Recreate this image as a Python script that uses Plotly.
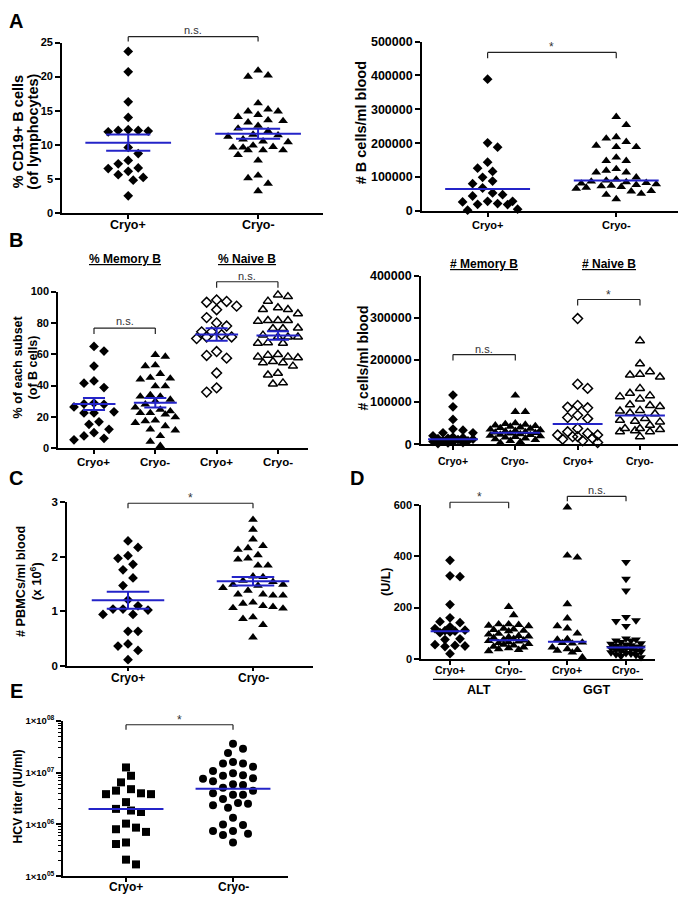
import numpy as np
import plotly.graph_objects as go

# page is 686x905; the html body adds an 8px margin, so the figure itself is 8px smaller
PAGE_W, PAGE_H = 686, 905
OFF = 8
W, H = PAGE_W - OFF, PAGE_H - OFF
FONT = "Liberation Sans"
BLUE = "#2424c8"

# ---------------- data ----------------
cats2 = ["Cryo+", "Cryo-"]
cats4 = ["Cryo+", "Cryo-", "Cryo+", "Cryo-"]

# A left: % CD19+ B cells
a_pct_pos = [23.7, 20.7, 16.3, 14.0, 12.2, 12.1, 11.9, 12.0, 12.1, 9.6, 8.7, 7.7, 7.2, 6.5, 6.6, 6.1, 5.6, 5.2, 4.8, 2.5]
a_pct_neg = [20.9, 20.2, 20.0, 16.1, 15.2, 14.9, 14.9, 14.4, 14.1, 13.5, 13.3, 13.6, 12.8, 12.4, 12.0, 11.5, 11.4,
             11.2, 10.8, 10.4, 10.5, 9.9, 9.6, 9.6, 9.7, 9.2, 9.2, 9.2, 8.5, 7.7, 5.5, 5.1, 4.3, 3.2]
a_pct_mean = [10.3, 11.6]
a_pct_sem = [1.2, 0.73]

# A right: # B cells/ml blood
a_cnt_pos = [389000, 201000, 188000, 144000, 126000, 116700, 99000, 88000, 80400, 67600, 53000, 48000, 44000,
             28400, 28400, 26500, 21600, 19600, 18600, 4900, 2000]
a_cnt_neg = [278000, 254000, 218000, 214000, 204000, 193000, 189000, 189000, 158000, 148000, 148000, 124000,
             119000, 114000, 114000, 99000, 93000, 90000, 87000, 85000, 83000, 81000, 79000, 77000, 75000, 73000,
             71000, 69000, 66000, 59000, 58000, 51000, 48000, 35000]
a_cnt_median = [65000, 90000]

# B left: % of each subset
b_mem_pos = [65.0, 62.0, 52.4, 42.9, 41.5, 38.7, 28.8, 28.2, 28.0, 26.3, 23.2, 22.5, 22.5, 16.8, 15.2, 12.0, 9.9, 7.8, 6.3, 5.3]
b_mem_neg = [59.6, 58.5, 53.0, 52.4, 47.5, 45.0, 44.5, 44.0, 39.6, 39.6, 34.0, 33.0, 33.0, 31.0, 30.0, 28.0, 26.0,
             24.6, 23.6, 22.5, 22.5, 21.5, 19.8, 17.7, 17.3, 16.2, 14.1, 12.0, 11.4, 7.8, 4.2, 1.5]
b_nai_pos = [94.7, 93.7, 93.2, 90.7, 88.4, 83.4, 80.0, 78.0, 74.3, 74.3, 72.5, 71.0, 71.0, 70.0, 61.7, 59.2, 57.5, 48.0, 38.5, 35.8]
b_nai_neg = [97.9, 96.8, 93.9, 89.7, 88.6, 88.6, 85.9, 81.5, 81.5, 81.5, 81.0, 76.8, 76.4, 76.4, 72.2, 71.0, 71.0,
             71.0, 67.4, 67.0, 67.0, 59.8, 59.4, 58.3, 58.3, 57.7, 55.4, 54.5, 54.5, 52.4, 47.8, 46.7, 41.7, 41.0]
b_pct_mean = [28.2, 29.0, 72.6, 72.0]
b_pct_sem = [3.8, 3.1, 4.0, 2.7]

# B right: # cells/ml blood
bc_mem_pos = [116700, 88900, 58700, 36000, 33300, 27000, 27000, 20000, 17000, 15500, 14000, 13000, 12000, 11000,
              9000, 8000, 6500, 5000, 4000, 3000, 1500]
bc_mem_neg = [116000, 77000, 77000, 50000, 48000, 46500, 45000, 43500, 42000, 40000, 38500, 37000, 35000, 33500,
              32000, 30500, 29000, 28000, 27000, 25500, 24000, 23000, 22000, 20500, 19000, 17500, 16000, 14000,
              12000, 10000, 8000, 5500, 3000]
bc_nai_pos = [298600, 142700, 132600, 92000, 88100, 86500, 68600, 63200, 60800, 37400, 29600, 25700, 21800, 21800,
              17900, 17900, 14000, 11700, 8000, 3900]
bc_nai_neg = [245600, 191000, 172300, 166000, 164500, 159800, 132600, 120900, 115400, 113000, 107600, 93600, 92000,
              89700, 80300, 78800, 74000, 72500, 60800, 56900, 54600, 53000, 45200, 37400, 37400, 35100, 32000,
              29600, 29600, 17900]
bc_median = [12000, 27000, 48000, 68000]

# C: # PBMCs/ml blood (x 10^6)
c_pos = [2.29, 2.17, 2.02, 1.97, 1.86, 1.76, 1.61, 1.47, 1.21, 1.10, 1.04, 1.04, 1.02, 0.94, 0.94, 0.63, 0.63,
         0.40, 0.36, 0.28, 0.11]
c_neg = [2.68, 2.50, 2.32, 2.20, 2.16, 2.13, 2.03, 1.97, 1.95, 1.84, 1.84, 1.64, 1.63, 1.56, 1.54, 1.49, 1.49,
         1.47, 1.43, 1.38, 1.31, 1.31, 1.29, 1.29, 1.16, 1.14, 1.10, 1.08, 1.06, 1.05, 0.89, 0.86, 0.75, 0.52]
c_mean = [1.20, 1.55]
c_sem = [0.155, 0.08]

# D: ALT / GGT (U/L)
d_alt_pos = [385, 324, 321, 212, 160, 145, 141, 125, 118, 112, 110, 108, 105, 102, 78, 75, 55, 52, 50, 48, 20]
d_alt_neg = [203, 171, 135, 135, 133, 130, 128, 118, 115, 113, 110, 108, 98, 95, 90, 88, 85, 82, 78, 75, 72, 70,
             68, 65, 62, 58, 55, 52, 48, 45, 42, 38, 35, 30]
d_ggt_pos = [592, 404, 396, 214, 158, 128, 119, 99, 77, 75, 64, 62, 60, 45, 38, 35, 32, 25, 6]
d_ggt_neg = [378, 312, 266, 163, 150, 147, 128, 79, 75, 71, 71, 65, 60, 58, 55, 52, 50, 48, 45, 44, 42, 40, 38,
             35, 32, 30, 28, 25, 22, 20, 17, 14, 10, 6]
d_median = [108, 72, 67, 44]
d_groups = ["ALT", "GGT"]

# E: HCV titer (IU/ml)
e_pos = [1.26e7, 8.7e6, 6.5e6, 4.8e6, 4.5e6, 4.0e6, 3.85e6, 3.85e6, 2.7e6, 2.0e6, 1.86e6, 1.74e6, 1.04e6,
         8.7e5, 8.1e5, 7.2e5, 4.5e5, 4.2e5, 2.1e5, 1.7e5]
e_neg = [3.6e7, 2.9e7, 2.4e7, 1.6e7, 1.5e7, 1.5e7, 1.3e7, 1.08e7, 9.7e6, 8.9e6, 8.7e6, 7.8e6, 7.6e6, 6.8e6,
         6.0e6, 5.75e6, 5.1e6, 4.5e6, 4.0e6, 3.75e6, 3.75e6, 3.1e6, 2.6e6, 2.5e6, 2.35e6, 2.1e6, 1.35e6, 1.0e6,
         9.8e5, 7.5e5, 7.5e5, 6.6e5, 6.3e5, 4.5e5]
e_median = [2.0e6, 4.9e6]
e_ticks = [1e5, 1e6, 1e7, 1e8]
e_ticktext = ["1×10<sup>05</sup>", "1×10<sup>06</sup>", "1×10<sup>07</sup>", "1×10<sup>08</sup>"]

# ---------------- geometry (page pixels) ----------------
geo = {
    "A1": dict(i=1, px=(62, 323, 36, 209), xr=(-0.51, 1.5), yr=(0, 25), log=False, laby=221),
    "A2": dict(i=2, px=(422, 678, 35, 207), xr=(-0.51, 1.48), yr=(0, 500000), log=False, laby=221),
    "B1": dict(i=3, px=(58, 308, 289, 448), xr=(-0.587, 3.49), yr=(0, 100), log=False, laby=462),
    "B2": dict(i=4, px=(421, 678, 273, 444), xr=(-0.513, 3.61), yr=(0, 400000), log=False, laby=461),
    "C": dict(i=5, px=(67, 313, 503, 669), xr=(-0.488, 1.48), yr=(0, 3), log=False, laby=682),
    "D": dict(i=6, px=(421, 655, 506, 662), xr=(-0.494, 3.494), yr=(0, 600), log=False, laby=673),
    "E": dict(i=7, px=(63, 288, 725, 883), xr=(-0.589, 1.514), yr=(5, 8), log=True, laby=894),
}


def fx(p):  # page x -> paper
    return (p - OFF) / W


def fy(p):  # page y -> paper
    return 1 - (p - OFF) / H


def scales(g):
    l, r, t, b = g["px"]
    sx = (r - l) / (g["xr"][1] - g["xr"][0])
    sy = (b - t) / (g["yr"][1] - g["yr"][0])
    return sx, sy


def xpix(g, xv):
    l = g["px"][0]
    sx, _ = scales(g)
    return l + (xv - g["xr"][0]) * sx


def swarm(vals, g, d=10.0, cap=40.0):
    """Deterministic beeswarm offsets (axis units) limited to +-cap pixels."""
    sx, sy = scales(g)
    v = np.log10(vals) if g["log"] else np.asarray(vals, float)
    order = np.argsort(-v, kind="stable")
    placed = []
    offs = np.zeros(len(v))
    step = d / 2
    flip = 1
    nmax = int(cap // step)
    for idx in order:
        yp = v[idx] * sy
        cands = [0.0]
        for j in range(1, nmax + 1):
            cands += [flip * j * step, -flip * j * step]
        chosen, best, bestd = None, 0.0, -1.0
        for c in cands:
            mind = min([np.hypot(c - a, yp - b) for (a, b) in placed], default=1e9)
            if mind >= d * 0.97:
                chosen = c
                break
            if mind > bestd + 0.5:
                bestd, best = mind, c
        if chosen is None:
            chosen = best
        if chosen != 0:
            flip = -flip
        placed.append((chosen, yp))
        offs[idx] = chosen / sx
    return offs


fig = go.Figure()


def axn(i):
    return ("x" if i == 1 else f"x{i}"), ("y" if i == 1 else f"y{i}")


def add_points(key, pos, vals, symbol, size, open_=False, d=10.0, cap=40.0):
    g = geo[key]
    xa, ya = axn(g["i"])
    offs = swarm(vals, g, d, cap)
    if open_:
        mk = dict(symbol=symbol, size=size, color="black", line=dict(color="black", width=1.5))
    else:
        mk = dict(symbol=symbol, size=size, color="black", line=dict(width=0))
    fig.add_trace(go.Scatter(x=pos + offs, y=vals, mode="markers", marker=mk, xaxis=xa, yaxis=ya,
                             cliponaxis=False, showlegend=False, hoverinfo="skip"))


def add_center(key, pos, center, half, sem=None, cap=0.17):
    g = geo[key]
    xa, ya = axn(g["i"])
    xs = [pos - half, pos + half]
    ys = [center, center]
    if sem is not None:
        xs += [None, pos, pos, None, pos - cap, pos + cap, None, pos - cap, pos + cap]
        ys += [None, center - sem, center + sem, None, center + sem, center + sem, None, center - sem, center - sem]
    fig.add_trace(go.Scatter(x=xs, y=ys, mode="lines", line=dict(color=BLUE, width=2), xaxis=xa, yaxis=ya,
                             cliponaxis=False, showlegend=False, hoverinfo="skip"))


# ---- points ----
add_points("A1", 0, a_pct_pos, "diamond", 7.5, cap=32)
add_points("A1", 1, a_pct_neg, "triangle-up", 8.5, cap=32)
add_points("A2", 0, a_cnt_pos, "diamond", 7.5, cap=30)
add_points("A2", 1, a_cnt_neg, "triangle-up", 8.5, cap=40)
add_points("B1", 0, b_mem_pos, "diamond", 7.5, cap=20)
add_points("B1", 1, b_mem_neg, "triangle-up", 8.5, cap=20)
add_points("B1", 2, b_nai_pos, "diamond-open", 7.5, True, cap=20)
add_points("B1", 3, b_nai_neg, "triangle-up-open", 8.0, True, cap=20)
add_points("B2", 0, bc_mem_pos, "diamond", 7.5, d=10, cap=24)
add_points("B2", 1, bc_mem_neg, "triangle-up", 8.5, d=10, cap=26)
add_points("B2", 2, bc_nai_pos, "diamond-open", 7.5, True, d=10, cap=22)
add_points("B2", 3, bc_nai_neg, "triangle-up-open", 8.0, True, d=10, cap=22)
add_points("C", 0, c_pos, "diamond", 7.5, cap=32)
add_points("C", 1, c_neg, "triangle-up", 8.5, cap=32)
add_points("D", 0, d_alt_pos, "diamond", 7.5, d=10, cap=18)
add_points("D", 1, d_alt_neg, "triangle-up", 8.5, d=10, cap=20)
add_points("D", 2, d_ggt_pos, "triangle-up", 8.5, d=10, cap=18)
add_points("D", 3, d_ggt_neg, "triangle-down", 8.5, d=10, cap=18)
add_points("E", 0, e_pos, "square", 8, cap=32)
add_points("E", 1, e_neg, "circle", 8, cap=32)

# ---- centre lines ----
for k in range(2):
    add_center("A1", k, a_pct_mean[k], 0.33, a_pct_sem[k], 0.17)
    add_center("A2", k, a_cnt_median[k], 0.33)
    add_center("C", k, c_mean[k], 0.29, c_sem[k], 0.17)
    add_center("E", k, e_median[k], 0.35)
for k in range(4):
    add_center("B1", k, b_pct_mean[k], 0.35, b_pct_sem[k], 0.18)
    add_center("B2", k, bc_median[k], 0.4)
    add_center("D", k, d_median[k], 0.33)

# ---- axes ----
ytick_cfg = {
    "A1": dict(vals=[0, 5, 10, 15, 20, 25], size=11, csize=12.5),
    "A2": dict(vals=[0, 100000, 200000, 300000, 400000, 500000], size=12.5, csize=11),
    "B1": dict(vals=[0, 20, 40, 60, 80, 100], size=11, csize=11.5),
    "B2": dict(vals=[0, 100000, 200000, 300000, 400000], size=12.5, csize=10.5),
    "C": dict(vals=[0, 1, 2, 3], size=11.5, csize=12),
    "D": dict(vals=[0, 200, 400, 600], size=11, csize=10.5),
    "E": dict(vals=e_ticks, size=9.5, csize=12),
}

ann = []
shapes = []


def text(xp, yp, s, size, bold=True, angle=0, color="black", under=False):
    f = dict(family=FONT, size=size, color=color)
    if bold:
        f["weight"] = 700
    if under:
        f["lineposition"] = "under"
    ann.append(dict(x=fx(xp), y=fy(yp), xref="paper", yref="paper", text=s, showarrow=False,
                    font=f, textangle=angle, xanchor="center", yanchor="middle"))


layout_axes = {}
for key, g in geo.items():
    i = g["i"]
    l, r, t, b = g["px"]
    ncat = 4 if key in ("B1", "B2", "D") else 2
    cats = cats4 if ncat == 4 else cats2
    cfg = ytick_cfg[key]
    xname = "xaxis" if i == 1 else f"xaxis{i}"
    yname = "yaxis" if i == 1 else f"yaxis{i}"
    xa, ya = axn(i)
    layout_axes[xname] = dict(domain=[fx(l), fx(r)], range=list(g["xr"]), anchor=ya, showline=True,
                              linecolor="black", linewidth=1.6, ticks="outside", ticklen=4, tickwidth=1.5,
                              tickcolor="black", tickvals=list(range(ncat)), showticklabels=False,
                              showgrid=False, zeroline=False, fixedrange=True)
    for ci, cname in enumerate(cats):
        text(xpix(g, ci), g["laby"], cname, cfg["csize"])
    yd = dict(domain=[fy(b), fy(t)], anchor=xa, showline=True, linecolor="black", linewidth=1.6,
              ticks="outside", ticklen=5, tickwidth=1.5, tickcolor="black", tickvals=cfg["vals"],
              tickfont=dict(family=FONT, size=cfg["size"], color="black", weight=700),
              showgrid=False, zeroline=False, fixedrange=True)
    if g["log"]:
        yd.update(type="log", range=list(g["yr"]), ticktext=e_ticktext,
                  minor=dict(ticks="outside", ticklen=3, tickwidth=1, tickcolor="black", dtick="D1", showgrid=False))
    else:
        yd.update(range=list(g["yr"]), tickformat="d")
    layout_axes[yname] = yd

fig.update_layout(**layout_axes)


def line_px(x0, y0, x1, y1, width=1.2, color="black"):
    shapes.append(dict(type="line", xref="paper", yref="paper", x0=fx(x0), x1=fx(x1), y0=fy(y0),
                       y1=fy(y1), line=dict(color=color, width=width)))


def bracket(key, c0, c1, yb, yd, label, ty):
    g = geo[key]
    x0, x1 = xpix(g, c0), xpix(g, c1)
    line_px(x0, yd, x0, yb, 1.2, "#222222")
    line_px(x0, yb, x1, yb, 1.2, "#222222")
    line_px(x1, yb, x1, yd, 1.2, "#222222")
    text((x0 + x1) / 2, ty, label, 11 if label != "*" else 12, bold=False, color="#333333")


# panel letters
text(16, 14, "A", 20)
text(16, 237, "B", 20)
text(16, 478, "C", 20)
text(357, 478, "D", 20)
text(16, 695, "E", 20)

# y axis titles
text(18, 127, "% CD19+ B cells", 14.5, angle=-90)
text(33.5, 127, "(of lymphocytes)", 14.5, angle=-90)
text(361, 118, "# B cells/ml blood", 14.5, angle=-90)
text(18, 366, "% of each subset", 12.5, angle=-90)
text(33, 366, "(of B cells)", 12.5, angle=-90)
text(363, 357, "# cells/ml blood", 14, angle=-90)
text(29, 584, "# PBMCs/ml blood<br>(x 10<sup>6</sup>)", 12.7, angle=-90)
text(386, 584, "(U/L)", 12.5, angle=-90)
text(18, 802, "HCV titer (IU/ml)", 12.3, angle=-90)

# group headers in B
text(xpix(geo["B1"], 0.5), 256, "% Memory B", 12, under=True)
text(xpix(geo["B1"], 2.5), 256, "% Naive B", 12, under=True)
text(xpix(geo["B2"], 0.5), 261, "# Memory B", 12, under=True)
text(xpix(geo["B2"], 2.5), 261, "# Naive B", 12, under=True)

# D group labels
gD = geo["D"]
for gi, name in enumerate(d_groups):
    a0, a1 = 2 * gi - 0.29, 2 * gi + 1.29
    line_px(xpix(gD, a0), 683, xpix(gD, a1), 683, 1.3)
    text(xpix(gD, 2 * gi + 0.5), 694, name, 12.5)

# significance brackets
bracket("A1", 0, 1, 30, 35, "n.s.", 23)
bracket("A2", 0, 1, 46, 52, "*", 41)
bracket("B1", 0, 1, 326, 332, "n.s.", 319)
bracket("B1", 2, 3, 279, 285, "n.s.", 273)
bracket("B2", 0, 1, 353, 359, "n.s.", 347)
bracket("B2", 2, 3, 297, 303, "*", 292)
bracket("C", 0, 1, 504, 509, "*", 499)
bracket("D", 0, 1, 503, 509, "*", 498)
bracket("D", 2, 3, 497, 502, "n.s.", 491)
bracket("E", 0, 1, 729, 734, "*", 724)

fig.update_layout(width=W, height=H, margin=dict(l=0, r=0, t=0, b=0), paper_bgcolor="white",
                  plot_bgcolor="white", annotations=ann, shapes=shapes, showlegend=False)

fig.write_html("out.html")
